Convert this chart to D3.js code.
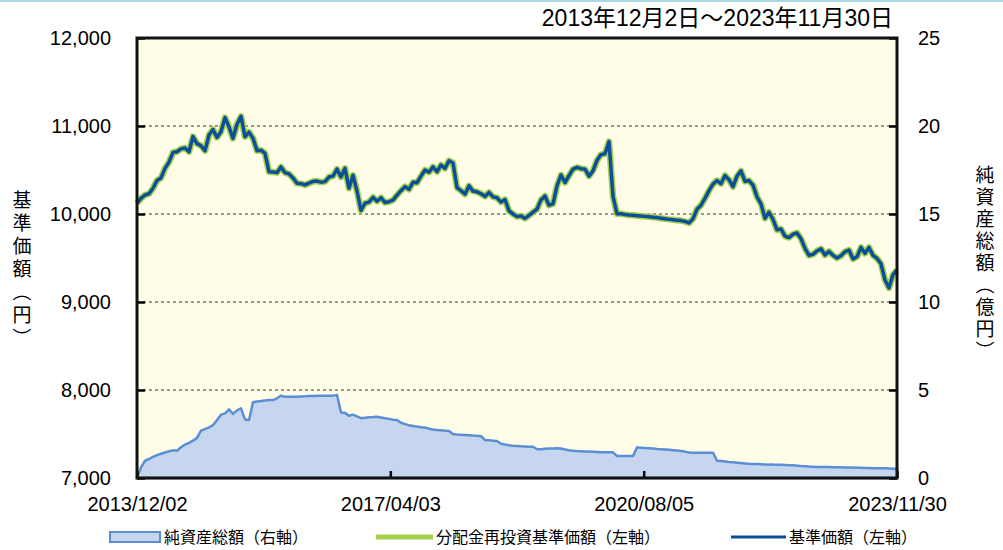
<!DOCTYPE html>
<html>
<head>
<meta charset="utf-8">
<script src="https://cdn.jsdelivr.net/npm/d3@7"></script>
<style>
  body { margin: 0; background: #fff; }
  text { font-family: "Liberation Sans", "Noto Sans CJK JP", sans-serif; }
  .jp { font-family: "Noto Sans CJK JP", sans-serif; }
</style>
</head>
<body>
<div id="chart"></div>
<script>
let svgextent = [1003, 550];

// 基準価額 (円), evenly spaced samples from 2013/12/02 to 2023/11/30
var nav = [
  10122, 10178, 10216, 10230, 10292, 10380, 10410, 10519, 10590, 10700,
  10708, 10740, 10750, 10708, 10880, 10800, 10775, 10720, 10898, 10960,
  10870, 10935, 11095, 10990, 10860, 11020, 11110, 10878, 10930, 10860,
  10720, 10725, 10690, 10480, 10478, 10470, 10535, 10470, 10456, 10410,
  10350, 10345, 10330, 10350, 10370, 10374, 10362, 10368, 10420, 10430,
  10510, 10420, 10519, 10292, 10440, 10260, 10040, 10122, 10135, 10190,
  10145, 10185, 10130, 10140, 10158, 10215, 10265, 10311, 10280, 10360,
  10355, 10430, 10500, 10475, 10535, 10480, 10557, 10519, 10605, 10580,
  10300, 10265, 10225, 10320, 10260, 10252, 10230, 10200, 10245, 10195,
  10185, 10135, 10165, 10035, 10000, 9970, 9977, 9950, 9985, 10020,
  10055, 10160, 10205, 10100, 10115, 10320, 10443, 10358, 10435, 10510,
  10530, 10515, 10510, 10430, 10490, 10610, 10675, 10685, 10822, 10200,
  10002, 10003, 9995, 9989, 9985, 9981, 9977, 9973, 9969, 9964,
  9959, 9952, 9945, 9939, 9935, 9930, 9925, 9915, 9898, 9945,
  10055, 10100, 10178, 10265, 10340, 10380, 10345, 10438, 10390, 10310,
  10430, 10490, 10370, 10380, 10328, 10195, 10115, 9951, 10020, 9940,
  9820, 9830, 9748, 9732, 9770, 9785, 9720, 9610, 9530, 9542,
  9580, 9605, 9534, 9575, 9530, 9500, 9525, 9572, 9590, 9490,
  9515, 9620, 9553, 9620, 9530, 9495, 9435, 9250, 9160, 9310,
  9364
];

// 分配金再投資基準価額 (円) - no distributions, same path as nav
var navReinvest = nav.slice();

// 純資産総額 (億円)
var netAssets = [
  0.0, 0.6, 0.98, 1.08, 1.2, 1.3, 1.38, 1.45, 1.52, 1.57,
  1.55, 1.75, 1.9, 2.0, 2.12, 2.28, 2.69, 2.78, 2.88, 3.0,
  3.3, 3.6, 3.67, 3.9, 3.64, 3.84, 3.96, 3.33, 3.3, 4.3,
  4.35, 4.37, 4.4, 4.43, 4.43, 4.53, 4.68, 4.62, 4.62, 4.62,
  4.62, 4.63, 4.64, 4.66, 4.66, 4.67, 4.68, 4.68, 4.68, 4.68,
  4.72, 3.72, 3.7, 3.54, 3.6, 3.5, 3.4, 3.42, 3.45, 3.46,
  3.48, 3.44, 3.4, 3.36, 3.31, 3.3, 3.14, 3.06, 3.0, 2.96,
  2.92, 2.89, 2.87, 2.8, 2.76, 2.73, 2.71, 2.69, 2.67, 2.5,
  2.47, 2.46, 2.45, 2.43, 2.41, 2.4, 2.37, 2.16, 2.14, 2.12,
  2.1, 1.95, 1.9, 1.86, 1.83, 1.82, 1.8, 1.79, 1.78, 1.78,
  1.63, 1.64, 1.66, 1.67, 1.68, 1.69, 1.68, 1.62, 1.58, 1.55,
  1.53, 1.52, 1.51, 1.5, 1.49, 1.48, 1.47, 1.47, 1.46, 1.46,
  1.25, 1.25, 1.25, 1.25, 1.25, 1.74, 1.72, 1.7, 1.69, 1.67,
  1.65, 1.64, 1.62, 1.6, 1.58, 1.56, 1.54, 1.5, 1.45, 1.44,
  1.44, 1.44, 1.44, 1.44, 1.44, 0.98, 0.96, 0.94, 0.91, 0.89,
  0.87, 0.85, 0.83, 0.81, 0.8, 0.79, 0.78, 0.77, 0.76, 0.76,
  0.75, 0.75, 0.74, 0.73, 0.72, 0.7, 0.68, 0.67, 0.65, 0.64,
  0.63, 0.63, 0.62, 0.62, 0.61, 0.61, 0.61, 0.6, 0.6, 0.59,
  0.58, 0.58, 0.57, 0.57, 0.56, 0.56, 0.55, 0.55, 0.54, 0.53,
  0.53
];

var xTickLabels = ["2013/12/02", "2017/04/03", "2020/08/05", "2023/11/30"];
var xTickIdx = [0, 63.33, 126.67, 190];
var leftTicks = [7000, 8000, 9000, 10000, 11000, 12000];
var rightTicks = [0, 5, 10, 15, 20, 25];
var title = "2013年12月2日～2023年11月30日";
var legendItems = ["純資産総額（右軸）", "分配金再投資基準価額（左軸）", "基準価額（左軸）"];

var plot = {left: 137, right: 897, top: 38, bottom: 478};

var svg = d3.select("#chart").append("svg")
    .attr("width", svgextent[0])
    .attr("height", svgextent[1]);

// thin light blue band at the very top
svg.append("rect").attr("x", 0).attr("y", 0).attr("width", svgextent[0]).attr("height", 2)
    .attr("fill", "#a9d9e2");

var x = d3.scaleLinear().domain([0, nav.length - 1]).range([plot.left, plot.right]);
var yL = d3.scaleLinear().domain([7000, 12000]).range([plot.bottom, plot.top]);
var yR = d3.scaleLinear().domain([0, 25]).range([plot.bottom, plot.top]);

svg.append("rect")
    .attr("x", plot.left).attr("y", plot.top)
    .attr("width", plot.right - plot.left).attr("height", plot.bottom - plot.top)
    .attr("fill", "#fffde8");

// dotted gridlines
svg.append("g").selectAll("line")
    .data(leftTicks.slice(1, -1))
    .enter().append("line")
    .attr("x1", plot.left).attr("x2", plot.right)
    .attr("y1", d => yL(d)).attr("y2", d => yL(d))
    .attr("stroke", "#333").attr("stroke-width", 1)
    .attr("stroke-dasharray", "3,3");

// net assets area
var area = d3.area()
    .x((d, i) => x(i))
    .y0(yR(0))
    .y1(d => yR(d));
svg.append("path")
    .datum(netAssets)
    .attr("d", area)
    .attr("fill", "#c5d6ee")
    .attr("stroke", "#5b8ed2")
    .attr("stroke-width", 2.5)
    .attr("stroke-linejoin", "round");

var line = d3.line()
    .x((d, i) => x(i))
    .y(d => yL(d));

svg.append("path")
    .datum(navReinvest)
    .attr("d", line)
    .attr("fill", "none")
    .attr("stroke", "#a6d04c")
    .attr("stroke-width", 6.5)
    .attr("stroke-linejoin", "round");

svg.append("path")
    .datum(nav)
    .attr("d", line)
    .attr("fill", "none")
    .attr("stroke", "#0b4f9c")
    .attr("stroke-width", 3.5)
    .attr("stroke-linejoin", "round");

// axes (inward ticks)
var leftAxis = d3.axisLeft(yL).tickValues(leftTicks).tickSize(-8).tickPadding(26)
    .tickFormat(d3.format(","));
var gL = svg.append("g").attr("transform", "translate(" + plot.left + ",0)").call(leftAxis);

var rightAxis = d3.axisRight(yR).tickValues(rightTicks).tickSize(-8).tickPadding(21);
var gR = svg.append("g").attr("transform", "translate(" + plot.right + ",0)").call(rightAxis);

var bottomAxis = d3.axisBottom(x).tickValues(xTickIdx).tickSize(-7).tickPadding(19)
    .tickFormat((d, i) => xTickLabels[i]);
var gB = svg.append("g").attr("transform", "translate(0," + plot.bottom + ")").call(bottomAxis);

[gL, gR, gB].forEach(function(g) {
  g.select(".domain").remove();
  g.selectAll(".tick line").attr("stroke", "#000").attr("stroke-width", 2.5);
  g.selectAll(".tick text").attr("fill", "#000").style("font-size", "20px")
    .style("font-family", "'Liberation Sans', sans-serif");
});
gB.selectAll(".tick text").attr("dy", "0.71em");

// frame
svg.append("rect")
    .attr("x", plot.left).attr("y", plot.top)
    .attr("width", plot.right - plot.left).attr("height", plot.bottom - plot.top)
    .attr("fill", "none").attr("stroke", "#111").attr("stroke-width", 3);

// title
svg.append("text")
    .attr("x", 893).attr("y", 26)
    .attr("text-anchor", "end")
    .style("font-size", "23px")
    .text(title);

// vertical axis titles
svg.append("text")
    .attr("class", "jp")
    .attr("x", 22).attr("y", 190)
    .attr("writing-mode", "vertical-rl")
    .style("font-size", "19px")
    .style("letter-spacing", "4px")
    .text("基準価額（円）");

svg.append("text")
    .attr("class", "jp")
    .attr("x", 985).attr("y", 165)
    .attr("writing-mode", "vertical-rl")
    .style("font-size", "19px")
    .style("letter-spacing", "3px")
    .text("純資産総額（億円）");

// legend
var lg = svg.append("g").attr("class", "jp").style("font-size", "16px");
lg.append("rect").attr("x", 110).attr("y", 532).attr("width", 50).attr("height", 10)
    .attr("fill", "#c5d6ee").attr("stroke", "#5b8ed2").attr("stroke-width", 2);
lg.append("text").attr("x", 164).attr("y", 543).text(legendItems[0]);
lg.append("line").attr("x1", 376).attr("x2", 433).attr("y1", 537).attr("y2", 537)
    .attr("stroke", "#a6d04c").attr("stroke-width", 5);
lg.append("text").attr("x", 436).attr("y", 543).text(legendItems[1]);
lg.append("line").attr("x1", 731).attr("x2", 786).attr("y1", 537).attr("y2", 537)
    .attr("stroke", "#0b4f9c").attr("stroke-width", 3);
lg.append("text").attr("x", 789).attr("y", 543).text(legendItems[2]);
</script>
</body>
</html>
